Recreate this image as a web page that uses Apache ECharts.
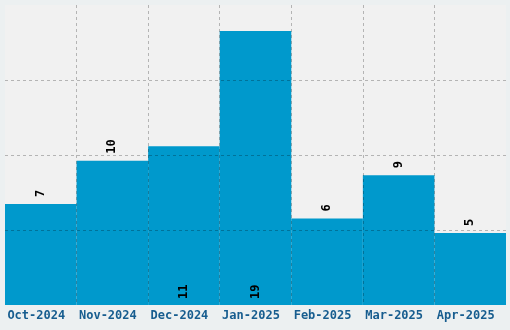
<!DOCTYPE html>
<html>
<head>
<meta charset="utf-8">
<script src="https://cdn.jsdelivr.net/npm/echarts@6/dist/echarts.min.js"></script>
<style>
html,body{margin:0;padding:0;background:#ecf0f1;}
#c{width:510px;height:330px;}
</style>
</head>
<body>
<div id="c"></div>
<script>
const categories = ['Oct-2024','Nov-2024','Dec-2024','Jan-2025','Feb-2025','Mar-2025','Apr-2025'];
const values = [7, 10, 11, 19, 6, 9, 5];
const labelInside = [false, false, true, true, false, false, false];

const chart = echarts.init(document.getElementById('c'), null, {renderer:'canvas'});
const mono = '"DejaVu Sans Mono", "Liberation Mono", monospace';
chart.setOption({
  backgroundColor: '#ecf0f1',
  animation: false,
  grid: {left:5, right:4, top:5, bottom:25, show:true, backgroundColor:'#f1f1f1', borderWidth:0},
  xAxis: {
    type:'category', data: categories, z:5,
    axisLine:{show:false}, axisTick:{show:false},
    splitLine:{show:true, showMinLine:false, showMaxLine:false, lineStyle:{color:'rgba(0,0,0,0.25)', type:[3,3], width:1}},
    axisLabel:{color:'#175d8f', fontFamily:mono, fontWeight:'bold', fontSize:12, margin:5, padding:[0,9,0,0], interval:0}
  },
  yAxis: {
    type:'value', min:0, max:20.8, interval:5.2, z:5,
    axisLine:{show:false}, axisTick:{show:false}, axisLabel:{show:false},
    splitLine:{show:true, showMinLine:false, showMaxLine:false, lineStyle:{color:'rgba(0,0,0,0.25)', type:[3,3], width:1}}
  },
  series: [{
    type:'bar', barCategoryGap:'0%', z:2,
    itemStyle:{color:'#0099cc'},
    data: values.map((v,i)=>({
      value:v,
      label: labelInside[i]
        ? {show:true, position:'insideBottom', rotate:90, align:'left', verticalAlign:'middle', distance:6}
        : {show:true, position:'top', rotate:90, align:'left', verticalAlign:'middle', distance:7}
    })),
    label:{color:'#000', fontFamily:mono, fontWeight:'bold', fontSize:12}
  }]
});
</script>
</body>
</html>
